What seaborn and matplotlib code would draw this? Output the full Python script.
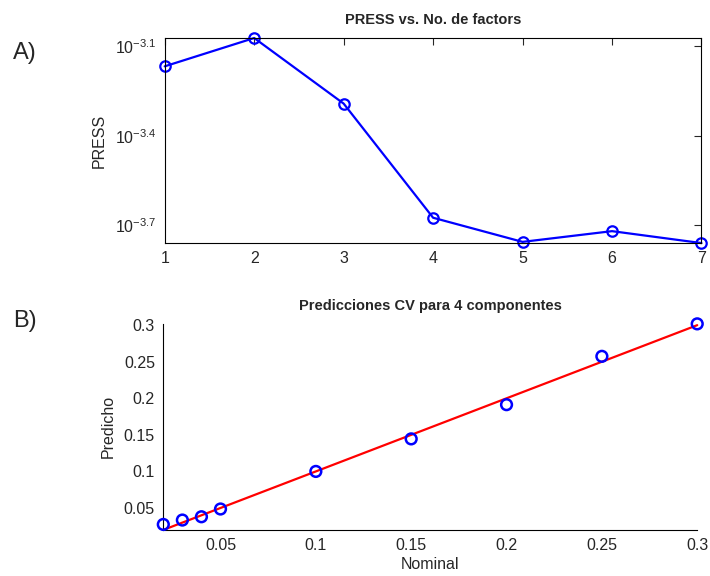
import numpy as np
import matplotlib
matplotlib.use("Agg")
from matplotlib import pyplot as plt
from matplotlib.ticker import FixedLocator, FixedFormatter, NullLocator
import seaborn as sns

# PRESS vs number of factors
n_factors = [1, 2, 3, 4, 5, 6, 7]
press_log10 = [-3.167, -3.072, -3.292, -3.675, -3.756, -3.720, -3.760]
press = [10 ** v for v in press_log10]

# CV predictions for 4 components
nominal = [0.02, 0.03, 0.04, 0.05, 0.10, 0.15, 0.20, 0.25, 0.30]
predicho = [0.0275, 0.0335, 0.038, 0.0486, 0.100, 0.1445, 0.1913, 0.2574, 0.3018]
ideal_x = [0.02, 0.30]
ideal_y = [0.02, 0.30]

press_ticks = [-3.1, -3.4, -3.7]
x_ticks_b = [0.05, 0.1, 0.15, 0.2, 0.25, 0.3]
y_ticks_b = [0.05, 0.1, 0.15, 0.2, 0.25, 0.3]

sns.set_style("white")
plt.rcParams['font.family'] = ['Liberation Sans', 'DejaVu Sans']
plt.rcParams['mathtext.fontset'] = 'custom'
plt.rcParams['mathtext.rm'] = 'Liberation Sans'
plt.rcParams['mathtext.it'] = 'Liberation Sans'

fig = plt.figure(figsize=(7.1, 5.76), dpi=100)

# ---- A) ----
ax1 = fig.add_axes([0.232, 0.578, 0.756, 0.356])
sns.lineplot(x=n_factors, y=press, ax=ax1, color='blue', linewidth=1.6,
             marker='o', markersize=7.5, markerfacecolor='none',
             markeredgecolor='blue', markeredgewidth=1.6, clip_on=False)
ax1.set_yscale('log')
ax1.set_xlim(1, 7)
ax1.set_ylim(10 ** -3.760, 10 ** -3.072)
ax1.yaxis.set_major_locator(FixedLocator([10 ** t for t in press_ticks]))
ax1.yaxis.set_major_formatter(FixedFormatter([r'$10^{%s}$' % t for t in press_ticks]))
ax1.yaxis.set_minor_locator(NullLocator())
ax1.set_xticks(n_factors)
ax1.tick_params(direction='in', top=True, right=True, length=5, labelsize=11.5,
                width=0.8, pad=6)
for s in ax1.spines.values():
    s.set_visible(True)
    s.set_color('black')
    s.set_linewidth(0.8)
ax1.set_ylabel('PRESS', fontsize=11.5, labelpad=6)
ax1.set_title('PRESS vs. No. de factors', fontsize=10.5, fontweight='bold', pad=10)

# ---- B) ----
ax2 = fig.add_axes([0.230, 0.080, 0.752, 0.358])
sns.lineplot(x=ideal_x, y=ideal_y, ax=ax2, color='red', linewidth=1.6, clip_on=False)
sns.scatterplot(x=nominal, y=predicho, ax=ax2, marker='o', s=60,
                facecolor='none', edgecolor='blue', linewidth=1.8, zorder=3,
                clip_on=False)
ax2.set_xlim(0.02, 0.3)
ax2.set_ylim(0.02, 0.302)
ax2.set_xticks(x_ticks_b)
ax2.set_xticklabels([f'{v:g}' for v in x_ticks_b])
ax2.set_yticks(y_ticks_b)
ax2.set_yticklabels([f'{v:g}' for v in y_ticks_b])
ax2.tick_params(direction='in', length=5, labelsize=11.5, width=0.8, pad=6)
for k in ['top', 'right']:
    ax2.spines[k].set_visible(False)
for k in ['left', 'bottom']:
    ax2.spines[k].set_color('black')
    ax2.spines[k].set_linewidth(0.8)
ax2.set_xlabel('Nominal', fontsize=11.5, labelpad=3)
ax2.set_ylabel('Predicho', fontsize=11.5, labelpad=6)
ax2.set_title('Predicciones CV para 4 componentes', fontsize=10.5, fontweight='bold', pad=10)

fig.text(0.018, 0.898, 'A)', fontsize=17)
fig.text(0.018, 0.433, 'B)', fontsize=17)

plt.savefig('out.png', dpi=100)
